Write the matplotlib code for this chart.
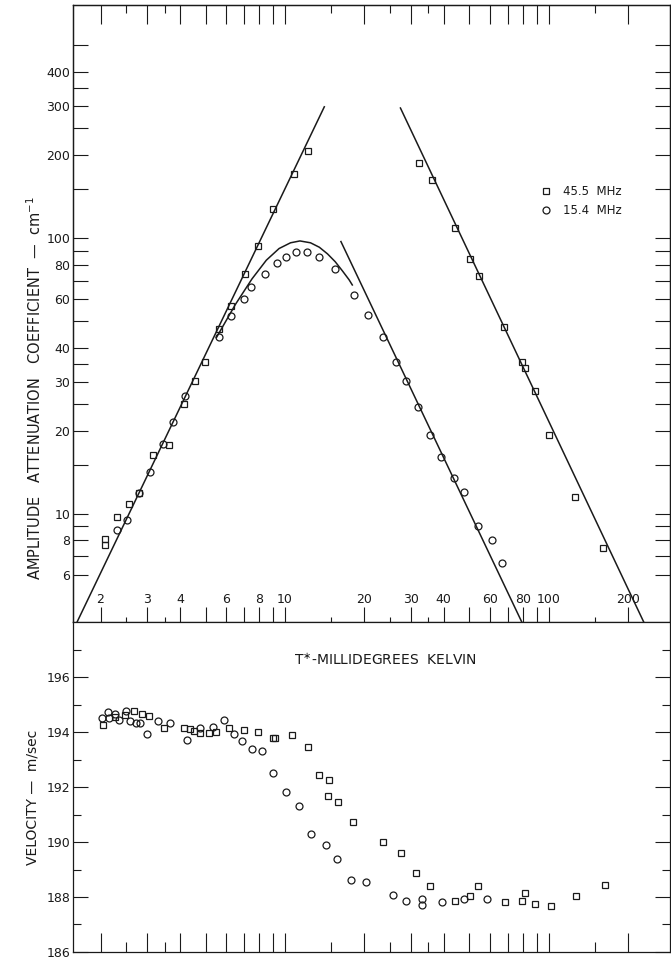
import matplotlib
matplotlib.use("Agg")
import matplotlib.pyplot as plt
import matplotlib.transforms as mtransforms

# ---- attenuation data (upper panel) ----
sq_T = [2.08, 2.08, 2.31, 2.57, 2.80, 3.16, 3.64, 4.15, 4.56, 4.99, 5.6, 6.22, 7.08, 7.93,
        9.03, 10.8, 12.2, 32.1, 36.1, 44.3, 50.1, 54.2, 67.6, 79.1, 81.5, 88.5, 100.5,
        125.8, 160.3]
sq_alpha = [8.1, 7.7, 9.7, 10.8, 11.9, 16.3, 17.7, 25.0, 30.2, 35.6, 46.9, 56.6, 74, 93.6,
            127, 170, 207, 187, 162, 109, 83.7, 72.8, 47.4, 35.5, 33.8, 27.9, 19.3,
            11.5, 7.5]

ci_T = [2.31, 2.53, 2.80, 3.08, 3.45, 3.75, 4.18, 5.62, 6.22, 6.98, 7.41, 8.38, 9.34, 10.1,
        11.0, 12.1, 13.5, 15.5, 18.2, 20.7, 23.5, 26.4, 28.8, 31.9, 35.4, 39.1, 43.8,
        47.7, 53.8, 60.7, 66.6]
ci_alpha = [8.7, 9.46, 11.9, 14.1, 17.9, 21.4, 26.6, 43.8, 52.1, 60, 66.2, 74, 80.9, 85.5,
            88.7, 88.7, 85.1, 76.9, 62.0, 52.7, 43.7, 35.6, 30.2, 24.4, 19.3, 16.1, 13.5,
            12.0, 9.0, 8.0, 6.63]

# fitted lines / curve as drawn on the figure
fit_lo_T = [1.63, 14.1]
fit_lo_a = [4.04, 299]
fit_hi45_T = [27.4, 229]
fit_hi45_a = [296, 4.04]
fit_hi15_T = [16.3, 79]
fit_hi15_a = [97, 4.04]
curve15_T = [5.5, 6.5, 7.5, 8.5, 9.5, 10.5, 11.4, 12.5, 13.5, 14.5, 15.5, 16.5, 17.5, 18.0]
curve15_a = [43.5, 57.5, 71.0, 83.0, 91.5, 96.0, 97.5, 96.0, 92.5, 87.5, 82.0, 76.0, 70.5, 67.5]

# ---- velocity data (lower panel) ----
vsq_T = [2.05, 2.26, 2.47, 2.68, 2.88, 3.05, 3.48, 4.16, 4.37, 4.53, 4.75, 5.14, 5.50, 6.13,
         6.97, 7.88, 9.0, 9.2, 10.6, 12.2, 13.45, 14.7, 14.6, 15.9, 18.1, 23.6, 27.6, 31.4,
         35.4, 44.1, 50.1, 54.0, 68.1, 79.4, 81.3, 88.3, 101.9, 126.3, 163.2]
vsq_v = [194.25, 194.55, 194.63, 194.75, 194.67, 194.59, 194.13, 194.15, 194.10, 194.05,
         193.95, 193.95, 194.01, 194.13, 194.07, 194.01, 193.80, 193.80, 193.88, 193.46,
         192.43, 192.25, 191.67, 191.47, 190.71, 190.0, 189.59, 188.87, 188.41, 187.87,
         188.03, 188.39, 187.81, 187.85, 188.14, 187.73, 187.68, 188.05, 188.43]

vci_T = [2.03, 2.13, 2.16, 2.26, 2.34, 2.49, 2.59, 2.73, 2.83, 3.00, 3.31, 3.67, 4.25, 4.75,
         5.35, 5.87, 6.41, 6.90, 7.49, 8.16, 9.0, 10.05, 11.3, 12.6, 14.3, 15.8, 17.8, 20.2,
         25.6, 28.8, 33.1, 33.1, 39.4, 47.7, 58.5]
vci_v = [194.51, 194.73, 194.51, 194.67, 194.43, 194.75, 194.39, 194.34, 194.34, 193.92,
         194.39, 194.31, 193.70, 194.15, 194.19, 194.43, 193.91, 193.67, 193.40, 193.30,
         192.50, 191.81, 191.31, 190.29, 189.90, 189.39, 188.62, 188.54, 188.09, 187.85,
         187.93, 187.70, 187.81, 187.94, 187.93]

# ticks
x_major = [2, 3, 4, 5, 6, 7, 8, 9, 10, 20, 30, 40, 50, 60, 70, 80, 90, 100, 200]
x_minor = [2.5, 3.5, 15, 25, 35, 150]
x_labels = [2, 3, 4, 6, 8, 10, 20, 30, 40, 60, 80, 100, 200]
y1_ticks = [6, 7, 8, 9, 10, 15, 20, 25, 30, 35, 40, 50, 60, 70, 80, 90, 100, 150, 200,
            250, 300, 350, 400, 500]
y1_labels = [6, 8, 10, 20, 30, 40, 60, 80, 100, 200, 300, 400]
y2_major = [186, 188, 190, 192, 194, 196]
y2_minor = [187, 189, 191, 193, 195, 197]

INK = "#1a1a1a"
XLIM = (1.573, 288)

fig = plt.figure(figsize=(6.71, 9.59), dpi=100)
ax1 = fig.add_axes([0.1088, 0.3514, 0.8897, 0.6434])
ax2 = fig.add_axes([0.1088, 0.0073, 0.8897, 0.3441])

mk = dict(linestyle="none", mfc="none", mec=INK, mew=0.9, ms=5)

# upper panel
ax1.plot(fit_lo_T, fit_lo_a, color=INK, lw=1.1)
ax1.plot(fit_hi45_T, fit_hi45_a, color=INK, lw=1.1)
ax1.plot(fit_hi15_T, fit_hi15_a, color=INK, lw=1.1)
ax1.plot(curve15_T, curve15_a, color=INK, lw=1.1)
ax1.plot(sq_T, sq_alpha, marker="s", label="45.5  MHz", **mk)
ax1.plot(ci_T, ci_alpha, marker="o", label="15.4  MHz", **mk)
ax1.set_xscale("log")
ax1.set_yscale("log")
ax1.set_xlim(*XLIM)
ax1.set_ylim(4.04, 700)

ax1.set_yticks(y1_ticks, labels=[str(v) if v in y1_labels else "" for v in y1_ticks])
ax1.yaxis.set_minor_locator(matplotlib.ticker.NullLocator())
ax1.tick_params(axis="y", which="major", left=True, right=True, direction="in",
                length=11, width=0.8, color=INK, labelsize=9, labelcolor=INK, pad=2)

ax1.set_xticks(x_major, labels=[""] * len(x_major))
ax1.set_xticks(x_minor, labels=[""] * len(x_minor), minor=True)
ax1.tick_params(axis="x", which="major", bottom=True, top=False, direction="inout",
                length=21, width=0.8, color=INK)
ax1.tick_params(axis="x", which="minor", bottom=True, top=False, direction="inout",
                length=7, width=0.8, color=INK)

# ticks along the top frame, pointing down
ax_top = ax1.twiny()
ax_top.set_xscale("log")
ax_top.set_xlim(*XLIM)
ax_top.set_xticks(x_major, labels=[""] * len(x_major))
ax_top.set_xticks(x_minor, labels=[""] * len(x_minor), minor=True)
ax_top.tick_params(axis="x", which="major", direction="in", length=14, width=0.8, color=INK)
ax_top.tick_params(axis="x", which="minor", direction="in", length=6, width=0.8, color=INK)

# temperature labels sit just above the middle axis line
trans = mtransforms.blended_transform_factory(ax1.transData, ax1.transAxes)
for v in x_labels:
    ax1.text(v, 0.036, str(v), transform=trans, ha="center", va="center",
             fontsize=9, color=INK)

ax1.legend(loc="upper left", bbox_to_anchor=(0.765, 0.725), frameon=False, fontsize=8.5,
           handlelength=1.0, handletextpad=0.9, labelspacing=0.5, labelcolor=INK)

# lower panel
ax2.plot(vsq_T, vsq_v, marker="s", **mk)
ax2.plot(vci_T, vci_v, marker="o", **mk)
ax2.set_xscale("log")
ax2.set_xlim(*XLIM)
ax2.set_ylim(186, 198)
ax2.set_yticks(y2_major, labels=[str(v) for v in y2_major])
ax2.set_yticks(y2_minor, minor=True)
ax2.tick_params(axis="y", which="major", left=True, right=True, direction="in",
                length=11, width=0.8, color=INK, labelsize=9, labelcolor=INK, pad=2)
ax2.tick_params(axis="y", which="minor", left=True, right=True, direction="in",
                length=6, width=0.8, color=INK)
ax2.set_xticks(x_major, labels=[""] * len(x_major))
ax2.set_xticks(x_minor, labels=[""] * len(x_minor), minor=True)
ax2.tick_params(axis="x", which="major", bottom=True, top=False, direction="in",
                length=14, width=0.8, color=INK)
ax2.tick_params(axis="x", which="minor", bottom=True, top=False, direction="in",
                length=7, width=0.8, color=INK)
ax2.spines["top"].set_visible(False)

for ax in (ax1, ax2, ax_top):
    for s in ax.spines.values():
        s.set_linewidth(0.9)
        s.set_color(INK)

fig.text(385 / 671, 1 - 660 / 959, "T$^{\\ast}$-MILLIDEGREES  KELVIN", ha="center",
         va="center", fontsize=10, color=INK)
fig.text(35 / 671, 1 - 388 / 959, "AMPLITUDE   ATTENUATION   COEFFICIENT  \u2014  cm$^{-1}$",
         rotation=90, ha="center", va="center", fontsize=10.5, color=INK)
fig.text(33 / 671, 1 - 797 / 959, "VELOCITY \u2014  m/sec", rotation=90, ha="center",
         va="center", fontsize=10, color=INK)

fig.savefig("out.png", dpi=100)
